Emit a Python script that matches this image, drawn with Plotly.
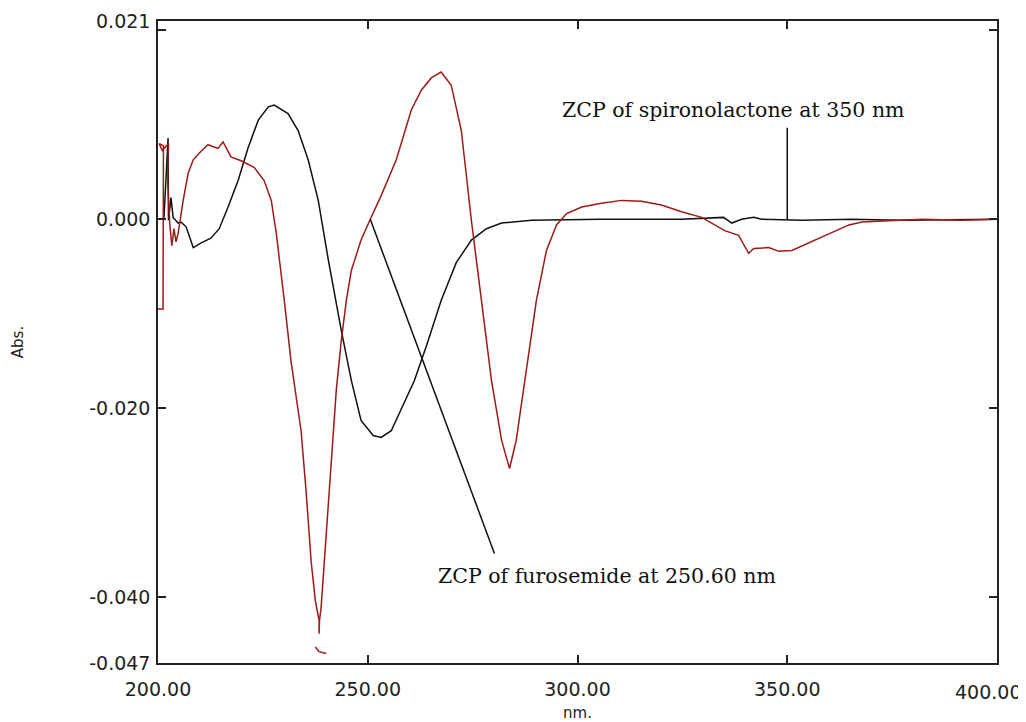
import plotly.graph_objects as go

# Red trace (spironolactone derivative spectrum)
red_x = [200.0, 201.2, 201.3, 200.3, 201.0, 202.5, 202.3, 202.8, 203.3, 203.8, 204.3, 204.8,
         206.0, 207.2, 208.4, 209.8, 211.9, 214.3, 215.5, 217.4, 219.8, 222.9, 225.3, 227.0,
         228.2, 229.4, 230.1, 231.7, 234.1, 235.3, 236.5, 237.5, 238.4, 238.4, 238.5, 238.9,
         240.1, 241.3, 242.5, 243.7, 244.9, 246.1, 248.4, 250.6, 253.2, 256.8, 260.4, 262.8,
         265.2, 267.5, 269.9, 272.3, 274.7, 277.1, 279.5, 281.9, 283.8, 285.4, 287.8, 290.2,
         292.6, 295.0, 297.4, 301.0, 305.7, 310.5, 315.3, 320.0, 324.8, 329.6, 335.1, 338.4,
         340.8, 342.0, 345.6, 348.0, 351.1, 355.1, 359.9, 364.7, 367.8, 372.6, 382.1, 391.6, 400.0,
         None, 237.5, 238.4, 240.1]
red_y = [-0.0095, -0.0095, 0.0078, 0.0080, 0.0073, 0.0080, 0.0040, -0.0005, -0.0028, -0.0010, -0.0024, -0.0015,
         0.0020, 0.0049, 0.0063, 0.0070, 0.0079, 0.0075, 0.0082, 0.0066, 0.0062, 0.0055, 0.0041, 0.0020,
         -0.0015, -0.0057, -0.0086, -0.0150, -0.0224, -0.0288, -0.0362, -0.0404, -0.0425, -0.0439, -0.0425, -0.0410,
         -0.0330, -0.0256, -0.0181, -0.0128, -0.0086, -0.0054, -0.0022, 0.0000, 0.0025, 0.0063, 0.0116, 0.0137,
         0.0150, 0.0156, 0.0142, 0.0094, -0.0001, -0.0086, -0.0171, -0.0234, -0.0264, -0.0234, -0.0160, -0.0086,
         -0.0033, -0.0006, 0.0006, 0.0013, 0.0017, 0.0020, 0.0019, 0.0015, 0.0008, 0.0002, -0.0012, -0.0017,
         -0.0036, -0.0031, -0.0030, -0.0034, -0.0033, -0.0025, -0.0015, -0.0006, -0.0003, -0.0002, 0.0000, -0.0001, 0.0000,
         None, -0.0453, -0.0458, -0.0460]

# Black trace (furosemide derivative spectrum)
black_x = [201.4, 202.1, 202.4, 202.5, 202.9, 203.1, 203.6, 204.8, 205.5, 206.7, 208.4, 210.3,
           212.6, 214.6, 216.7, 219.1, 221.5, 223.9, 226.3, 227.7, 231.0, 233.4, 235.8, 238.2,
           240.6, 243.7, 246.1, 248.4, 251.3, 253.2, 255.6, 258.0, 261.1, 264.0, 267.5, 271.1,
           274.7, 278.3, 281.9, 289.0, 305.7, 324.8, 334.8, 336.8, 339.1, 342.0, 343.9, 353.5,
           365.4, 377.3, 400.0]
black_y = [0.0000, 0.0063, 0.0086, -0.0001, 0.0015, 0.0023, 0.0002, -0.0004, -0.0003, -0.0008, -0.0030, -0.0025,
           -0.0020, -0.0010, 0.0013, 0.0041, 0.0076, 0.0105, 0.0119, 0.0121, 0.0112, 0.0094, 0.0063, 0.0020,
           -0.0043, -0.0118, -0.0171, -0.0213, -0.0229, -0.0231, -0.0224, -0.0201, -0.0171, -0.0134, -0.0086, -0.0046,
           -0.0022, -0.0010, -0.0004, -0.0001, 0.0000, 0.0000, 0.0002, -0.0004, 0.0000, 0.0002, 0.0000, -0.0001,
           0.0000, -0.0001, 0.0000]

x_ticks = [200, 250, 300, 350, 400]
x_tick_text = ["200.00", "250.00", "300.00", "350.00", ""]
last_x_label = "400.00"
y_ticks = [0.021, 0.020, 0.0, -0.020, -0.040, -0.047]
y_tick_text = ["0.021", "", "0.000", "-0.020", "-0.040", "-0.047"]

fig = go.Figure()
fig.add_trace(go.Scatter(x=black_x, y=black_y, mode="lines",
                         line=dict(color="#111111", width=1.5), showlegend=False))
fig.add_trace(go.Scatter(x=red_x, y=red_y, mode="lines",
                         line=dict(color="#9c1a1a", width=1.5), showlegend=False))

# Annotation pointer lines
fig.add_shape(type="line", x0=350, y0=0.0, x1=350, y1=0.0097,
              line=dict(color="#111111", width=1.5))
fig.add_shape(type="line", x0=250.6, y0=0.0, x1=280.2, y1=-0.0354,
              line=dict(color="#111111", width=1.5))

serif = dict(family="DejaVu Serif, Liberation Serif, serif", size=20.5, color="#111")
fig.add_annotation(x=350, y=0.0116, text="ZCP of spironolactone at 350 nm", showarrow=False,
                   xanchor="center", yanchor="middle", xshift=-54, font=serif)
fig.add_annotation(x=280.2, y=-0.0378, text="ZCP of furosemide at 250.60 nm", showarrow=False,
                   xanchor="center", yanchor="middle", xshift=113, font=serif)

tick_font = dict(family="DejaVu Sans, Liberation Sans, sans-serif", size=19, color="#222")
title_font = dict(family="DejaVu Sans, Liberation Sans, sans-serif", size=15, color="#222")

# last x tick label, shifted left to stay inside the page
fig.add_annotation(x=400, y=0, xref="x", yref="paper", text=last_x_label, showarrow=False,
                   xanchor="center", yanchor="top", xshift=-9, yshift=-16, font=tick_font)

fig.update_layout(
    width=1018, height=714,
    margin=dict(l=150, r=29, t=13, b=59),
    paper_bgcolor="white", plot_bgcolor="white",
    xaxis=dict(range=[200, 400], tickvals=x_ticks, ticktext=x_tick_text,
               ticks="inside", ticklen=8, tickwidth=1.5, tickcolor="#222",
               showline=True, linecolor="#222", linewidth=1.5, mirror="ticks",
               showgrid=False, zeroline=False, tickfont=tick_font,
               ticklabelstandoff=8, automargin=False,
               title=dict(text="nm.", font=title_font, standoff=17)),
    yaxis=dict(range=[-0.047, 0.021], tickvals=y_ticks, ticktext=y_tick_text,
               ticks="inside", ticklen=8, tickwidth=1.5, tickcolor="#222",
               showline=True, linecolor="#222", linewidth=1.5, mirror="ticks",
               showgrid=False, zeroline=False, tickfont=tick_font,
               ticklabelstandoff=2, automargin=False,
               title=dict(text="Abs.", font=title_font, standoff=62)),
)

fig.write_html("out.html")
